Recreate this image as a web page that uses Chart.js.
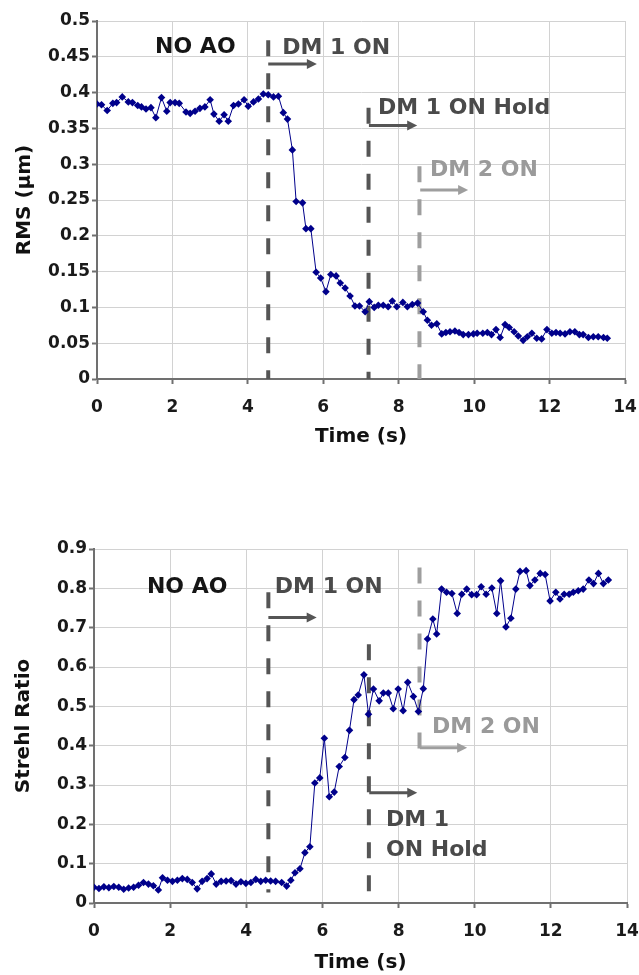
<!DOCTYPE html>
<html>
<head>
<meta charset="utf-8">
<script src="https://cdn.jsdelivr.net/npm/chart.js@4.4.1/dist/chart.umd.min.js"></script>
<style>
  body { margin: 0; background: #fff; }
  #wrap { position: relative; width: 639px; height: 975px; }
  canvas { position: absolute; left: 0; }
</style>
</head>
<body>
<div id="wrap">
  <canvas id="rmsChart" width="639" height="455" style="top:0"></canvas>
  <canvas id="strehlChart" width="639" height="475" style="top:500px"></canvas>
</div>
<script>
// RMS (top chart)
const rmsTime = [0.00,0.12,0.27,0.42,0.52,0.67,0.83,0.94,1.08,1.18,1.30,1.43,1.56,1.71,1.85,1.94,2.07,2.18,2.36,2.47,
  2.60,2.73,2.86,3.00,3.10,3.24,3.37,3.48,3.62,3.75,3.90,4.01,4.15,4.28,4.41,4.54,4.68,4.81,4.94,
  5.05,5.18,5.28,5.45,5.54,5.67,5.81,5.93,6.07,6.20,6.34,6.45,6.58,6.71,6.84,6.96,7.11,7.22,7.35,7.46,
  7.59,7.72,7.83,7.95,8.11,8.23,8.36,8.50,8.65,8.76,8.87,9.01,9.14,9.25,9.36,9.49,9.60,9.71,9.85,9.98,
  10.08,10.23,10.35,10.46,10.58,10.69,10.82,10.93,11.06,11.17,11.30,11.41,11.53,11.66,11.79,11.93,12.06,12.17,12.28,12.41,
  12.54,12.67,12.79,12.89,13.03,13.16,13.29,13.43,13.53]
const rmsValue = [0.384,0.383,0.375,0.385,0.386,0.394,0.387,0.386,0.382,0.380,0.377,0.379,0.365,0.393,0.374,0.386,0.386,0.385,0.373,0.371,
  0.374,0.378,0.380,0.390,0.370,0.360,0.369,0.360,0.382,0.384,0.390,0.381,0.387,0.391,0.398,0.397,0.394,0.395,0.372,
  0.363,0.320,0.248,0.246,0.210,0.210,0.149,0.141,0.122,0.146,0.144,0.134,0.127,0.116,0.102,0.102,0.094,0.108,0.100,0.103,
  0.103,0.101,0.109,0.101,0.107,0.101,0.104,0.106,0.094,0.082,0.075,0.077,0.063,0.065,0.066,0.067,0.065,0.062,0.062,0.063,
  0.064,0.064,0.065,0.062,0.069,0.058,0.076,0.072,0.066,0.060,0.054,0.059,0.064,0.057,0.056,0.069,0.064,0.065,0.064,0.063,
  0.066,0.066,0.062,0.062,0.058,0.059,0.059,0.058,0.057]

// Strehl (bottom chart)
const strehlTime = [0.00,0.13,0.26,0.39,0.52,0.65,0.78,0.91,1.04,1.17,1.30,1.43,1.56,1.69,1.80,1.93,2.06,2.19,2.32,2.45,
  2.58,2.71,2.84,2.97,3.08,3.21,3.34,3.47,3.60,3.73,3.86,3.99,4.12,4.25,4.38,4.51,4.64,4.77,
  4.93,5.06,5.17,5.28,5.41,5.54,5.67,5.80,5.93,6.05,6.18,6.31,6.44,6.59,6.71,6.83,6.94,7.09,7.21,7.34,7.49,
  7.60,7.73,7.86,7.99,8.12,8.24,8.39,8.52,8.65,8.76,8.90,9.00,9.13,9.26,9.40,9.54,9.66,9.79,9.92,10.05,
  10.17,10.30,10.45,10.58,10.68,10.82,10.95,11.08,11.19,11.35,11.45,11.58,11.72,11.85,11.98,12.13,12.24,12.35,12.48,
  12.59,12.72,12.85,13.00,13.12,13.25,13.38,13.51]
const strehlValue = [0.040,0.037,0.041,0.039,0.042,0.040,0.035,0.038,0.040,0.045,0.052,0.048,0.044,0.033,0.064,0.058,0.055,0.058,0.062,0.060,
  0.052,0.036,0.055,0.062,0.074,0.048,0.055,0.056,0.057,0.048,0.054,0.050,0.052,0.060,0.055,0.058,0.056,0.055,
  0.052,0.043,0.058,0.077,0.087,0.128,0.143,0.305,0.318,0.419,0.270,0.282,0.347,0.370,0.439,0.517,0.529,0.580,0.480,0.544,0.514,
  0.534,0.534,0.494,0.544,0.489,0.561,0.525,0.487,0.545,0.671,0.722,0.684,0.798,0.790,0.787,0.736,0.785,0.798,0.784,0.784,
  0.804,0.785,0.801,0.736,0.819,0.702,0.724,0.798,0.843,0.845,0.807,0.821,0.838,0.835,0.768,0.790,0.773,0.785,0.785,
  0.790,0.794,0.798,0.821,0.812,0.838,0.812,0.821]

// ticks
const timeTicks = [0, 2, 4, 6, 8, 10, 12, 14]
const timeTickLabels = ['0', '2', '4', '6', '8', '10', '12', '14']
const rmsTicks = [0, 0.05, 0.1, 0.15, 0.2, 0.25, 0.3, 0.35, 0.4, 0.45, 0.5]
const rmsTickLabels = ['0', '0.05', '0.1', '0.15', '0.2', '0.25', '0.3', '0.35', '0.4', '0.45', '0.5']
const strehlTicks = [0, 0.1, 0.2, 0.3, 0.4, 0.5, 0.6, 0.7, 0.8, 0.9]
const strehlTickLabels = ['0', '0.1', '0.2', '0.3', '0.4', '0.5', '0.6', '0.7', '0.8', '0.9']

// event markers: time, top, bottom of dashed line
const rmsMarkTime = [4.54, 7.20, 8.55]
const rmsMarkTop = [0.473, 0.379, 0.297]
const rmsMarkBottom = [0, 0, 0]
const strehlMarkTime = [4.58, 7.22, 8.55]
const strehlMarkTop = [0.79, 0.658, 0.853]
const strehlMarkBottom = [0.027, 0.027, 0.37]

// arrows: start time, end time, level
const rmsArrowFrom = [4.54, 7.21, 8.57]
const rmsArrowTo = [5.83, 8.49, 9.84]
const rmsArrowLevel = [0.44, 0.354, 0.264]
const strehlArrowFrom = [4.58, 7.23, 8.56]
const strehlArrowTo = [5.85, 8.49, 9.80]
const strehlArrowLevel = [0.726, 0.28, 0.395]

// labels: text, left time, baseline value
const rmsNotes = ['NO AO', 'DM 1 ON', 'DM 1 ON Hold', 'DM 2 ON']
const rmsNoteTime = [1.54, 4.91, 7.45, 8.83]
const rmsNoteLevel = [0.455, 0.454, 0.370, 0.2835]
const strehlNotes = ['NO AO', 'DM 1 ON', 'DM 2 ON', 'DM 1', 'ON Hold']
const strehlNoteTime = [1.39, 4.75, 8.88, 7.67, 7.67]
const strehlNoteLevel = [0.789, 0.789, 0.433, 0.196, 0.120]

const DARK = '#555555'
const LIGHT = '#9e9e9e'
const markColors = [DARK, DARK, LIGHT]
const rmsNoteColors = ['#151515', '#4a4a4a', '#4a4a4a', '#9a9a9a']
const strehlNoteColors = ['#151515', '#4a4a4a', '#9a9a9a', '#4a4a4a', '#4a4a4a']

const FONT = "'DejaVu Sans', sans-serif"
const BLUE = '#00008b'

// arrows + text on top of the plot
const notesPlugin = {
  id: 'notes',
  afterDatasetsDraw(chart, args, opts) {
    const { ctx } = chart
    const xs = chart.scales.x
    const ys = chart.scales.y
    ctx.save()
    opts.arrowFrom.forEach((t0, i) => {
      const x0 = xs.getPixelForValue(t0)
      const x1 = xs.getPixelForValue(opts.arrowTo[i])
      const y = ys.getPixelForValue(opts.arrowLevel[i])
      ctx.strokeStyle = markColors[i]
      ctx.fillStyle = markColors[i]
      ctx.lineWidth = 3
      ctx.beginPath()
      ctx.moveTo(x0, y)
      ctx.lineTo(x1 - 8, y)
      ctx.stroke()
      ctx.beginPath()
      ctx.moveTo(x1, y)
      ctx.lineTo(x1 - 10, y - 5)
      ctx.lineTo(x1 - 10, y + 5)
      ctx.closePath()
      ctx.fill()
    })
    ctx.font = 'bold 22px ' + FONT
    ctx.textAlign = 'left'
    ctx.textBaseline = 'alphabetic'
    opts.notes.forEach((txt, i) => {
      ctx.fillStyle = opts.noteColors[i]
      ctx.fillText(txt, xs.getPixelForValue(opts.noteTime[i]), ys.getPixelForValue(opts.noteLevel[i]))
    })
    ctx.restore()
  }
}

function makeChart(canvas, cfg) {
  const datasets = [{
    data: cfg.time.map((t, i) => ({ x: t, y: cfg.value[i] })),
    borderColor: BLUE,
    borderWidth: 1,
    pointStyle: 'rectRot',
    pointRadius: 3.8,
    pointBackgroundColor: BLUE,
    pointBorderColor: BLUE,
    pointBorderWidth: 0,
    tension: 0
  }]
  cfg.markTime.forEach((t, i) => {
    datasets.push({
      data: [{ x: t, y: cfg.markTop[i] }, { x: t, y: cfg.markBottom[i] }],
      borderColor: markColors[i],
      borderWidth: 4,
      borderDash: [16, 17],
      pointRadius: 0
    })
  })

  const tickFont = { family: FONT, weight: 'bold', size: 17 }
  const titleFont = { family: FONT, weight: 'bold', size: 20 }

  return new Chart(canvas.getContext('2d'), {
    type: 'line',
    data: { datasets },
    options: {
      responsive: false,
      animation: false,
      devicePixelRatio: 1,
      layout: { padding: cfg.padding },
      plugins: {
        legend: { display: false },
        tooltip: { enabled: false },
        notes: cfg.notes
      },
      scales: {
        x: {
          type: 'linear',
          min: 0,
          max: 14,
          afterBuildTicks: s => { s.ticks = timeTicks.map(v => ({ value: v })) },
          afterFit: s => {
            s.height = cfg.xHeight
            s.paddingLeft = 0
            s.paddingRight = 0
          },
          ticks: {
            autoSkip: false,
            maxRotation: 0,
            padding: 13,
            color: '#1a1a1a',
            font: tickFont,
            callback: (v, i) => timeTickLabels[i]
          },
          grid: { color: '#d2d2d2', lineWidth: 1, tickLength: 5, tickColor: '#707070', tickWidth: 2 },
          border: { color: '#707070', width: 2 },
          title: { display: true, text: 'Time (s)', color: '#111', font: titleFont, padding: { top: 0, bottom: cfg.xTitlePad } }
        },
        y: {
          min: 0,
          max: cfg.yMax,
          afterBuildTicks: s => { s.ticks = cfg.yTicks.map(v => ({ value: v })) },
          afterFit: s => { s.width = cfg.yWidth },
          ticks: {
            autoSkip: false,
            padding: 2,
            color: '#1a1a1a',
            font: tickFont,
            callback: (v, i) => cfg.yTickLabels[i]
          },
          grid: { color: '#d2d2d2', lineWidth: 1, tickLength: 5, tickColor: '#707070', tickWidth: 2 },
          border: { color: '#707070', width: 2 },
          title: { display: true, text: cfg.yTitle, color: '#111', font: titleFont, padding: { top: cfg.yTitlePad, bottom: 0 } }
        }
      }
    },
    plugins: [notesPlugin]
  })
}

makeChart(document.getElementById('rmsChart'), {
  time: rmsTime, value: rmsValue,
  markTime: rmsMarkTime, markTop: rmsMarkTop, markBottom: rmsMarkBottom,
  yMax: 0.5, yTicks: rmsTicks, yTickLabels: rmsTickLabels, yTitle: 'RMS (µm)',
  padding: { top: 21, right: 14, left: 0, bottom: 0 },
  xHeight: 76, yWidth: 97, xTitlePad: 6, yTitlePad: 13,
  notes: {
    arrowFrom: rmsArrowFrom, arrowTo: rmsArrowTo, arrowLevel: rmsArrowLevel,
    notes: rmsNotes, noteTime: rmsNoteTime, noteLevel: rmsNoteLevel, noteColors: rmsNoteColors
  }
})

makeChart(document.getElementById('strehlChart'), {
  time: strehlTime, value: strehlValue,
  markTime: strehlMarkTime, markTop: strehlMarkTop, markBottom: strehlMarkBottom,
  yMax: 0.9, yTicks: strehlTicks, yTickLabels: strehlTickLabels, yTitle: 'Strehl Ratio',
  padding: { top: 49, right: 12, left: 0, bottom: 0 },
  xHeight: 72, yWidth: 94, xTitlePad: 0, yTitlePad: 12,
  notes: {
    arrowFrom: strehlArrowFrom, arrowTo: strehlArrowTo, arrowLevel: strehlArrowLevel,
    notes: strehlNotes, noteTime: strehlNoteTime, noteLevel: strehlNoteLevel, noteColors: strehlNoteColors
  }
})
</script>
</body>
</html>
